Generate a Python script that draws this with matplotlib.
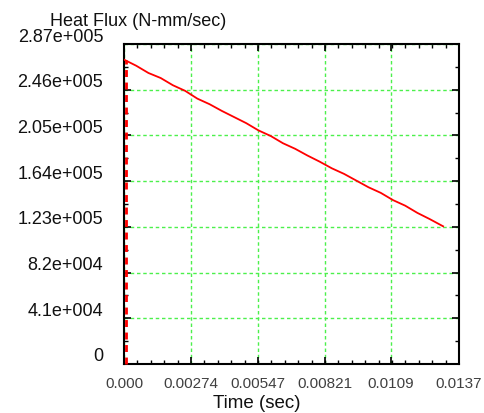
import matplotlib
matplotlib.use("Agg")
import matplotlib.pyplot as plt
from matplotlib.ticker import FixedLocator, AutoMinorLocator
from matplotlib.transforms import ScaledTranslation

plt.rcParams['font.family'] = ['Liberation Sans', 'DejaVu Sans']

time_s = [0.0, 0.0, 0.0005, 0.001, 0.0015, 0.002, 0.0025, 0.003, 0.0035, 0.004,
          0.0045, 0.005, 0.0055, 0.006, 0.0065, 0.007, 0.0075, 0.008, 0.0085,
          0.009, 0.0095, 0.010, 0.0105, 0.011, 0.0115, 0.012, 0.0125, 0.01305]
heat_flux = [0, 273000, 267500, 261000, 256500, 250000, 245000, 238000, 233000,
             227000, 221500, 216000, 209500, 204500, 198000, 193000, 187000,
             181500, 175500, 170500, 164500, 158500, 153500, 147000, 142000,
             135500, 130000, 123500]

x_ticks = [0.0, 0.00274, 0.00547, 0.00821, 0.0109, 0.0137]
x_labels = ["0.000", "0.00274", "0.00547", "0.00821", "0.0109", "0.0137"]
y_ticks = [0, 41000, 82000, 123000, 164000, 205000, 246000, 287000]
y_labels = ["0", "4.1e+004", "8.2e+004", "1.23e+005", "1.64e+005",
            "2.05e+005", "2.46e+005", "2.87e+005"]

fig = plt.figure(figsize=(4.84, 4.14), dpi=100)
ax = fig.add_axes([124/484, 1-365/414, (459-124)/484, (365-45)/414])

# initial jump at t=0 (drawn dashed just inside the left spine)
shift = ScaledTranslation(0.02, 0, fig.dpi_scale_trans)
ax.plot(time_s[:2], heat_flux[:2], color='#ff0000', lw=2.0,
        linestyle=(0, (2.5, 2)), transform=ax.transData + shift, zorder=4,
        clip_on=False)
ax.plot(time_s[1:], heat_flux[1:], color='#ff0000', lw=1.3, zorder=3)

ax.set_xlim(0, 0.0137)
ax.set_ylim(0, 287000)
ax.xaxis.set_major_locator(FixedLocator(x_ticks))
ax.yaxis.set_major_locator(FixedLocator(y_ticks))
ax.set_xticklabels(x_labels)
ax.set_yticklabels(y_labels)
ax.xaxis.set_minor_locator(AutoMinorLocator(5))
ax.yaxis.set_minor_locator(AutoMinorLocator(2))

ax.tick_params(which='both', direction='in', top=True, right=True, color='black')
ax.tick_params(which='major', length=5, width=1.2)
ax.tick_params(which='minor', length=3, width=1)
ax.tick_params(axis='x', labelsize=11, labelcolor='#404040', pad=9)
ax.tick_params(axis='y', labelsize=13, labelcolor='#111111', pad=15)

ax.grid(True, which='major', color='#4cf04c', linestyle=(0, (2.5, 2)), lw=1.0)
for s in ax.spines.values():
    s.set_linewidth(1.5)

off = ScaledTranslation(0, 0.10, fig.dpi_scale_trans)
for lab in ax.get_yticklabels():
    lab.set_transform(lab.get_transform() + off)

fig.text(50/484, 1-26/414, "Heat Flux (N-mm/sec)", fontsize=13, ha='left',
         va='baseline', color='#111111')
fig.text(257/484, 1-408/414, "Time (sec)", fontsize=13.5, ha='center',
         va='baseline', color='#111111')

fig.savefig("out.png", dpi=100)
